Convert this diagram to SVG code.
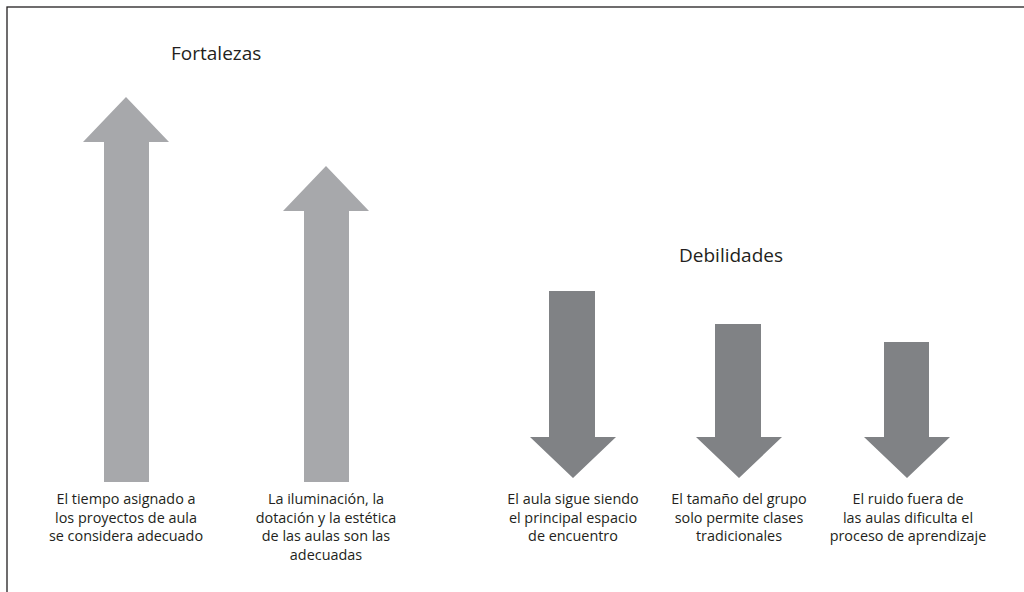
<svg xmlns="http://www.w3.org/2000/svg" width="1024" height="592" viewBox="0 0 1024 592">
<style>
.up{fill:#a7a8ab}
.down{fill:#808285}
.t{font-family:"Open Sans","Liberation Sans",sans-serif;font-size:14.4px;fill:#231f20;text-anchor:middle}
.h{font-family:"Open Sans","Liberation Sans",sans-serif;font-size:19px;fill:#231f20}
</style>
<rect x="7" y="7" width="1030" height="600" fill="#ffffff" stroke="#231f20" stroke-width="1.3"/>
<g id="title-fortalezas"><text class="h" x="171" y="60">Fortalezas</text></g>
<g id="title-debilidades"><text class="h" x="679" y="262">Debilidades</text></g>
<g id="connectors">
<polygon id="arrow-up-1" class="up" points="126,97 169,142 149,142 149,482 104,482 104,142 83,142"/>
<polygon id="arrow-up-2" class="up" points="326,166 369,211 349,211 349,482 304,482 304,211 283,211"/>
<polygon id="arrow-down-1" class="down" points="549,291 595,291 595,437 616,437 573,478 530,437 549,437"/>
<polygon id="arrow-down-2" class="down" points="715,324 761,324 761,437 782,437 739,478 696,437 715,437"/>
<polygon id="arrow-down-3" class="down" points="884,342 929,342 929,437 950,437 907,478 864,437 884,437"/>
</g>
<g id="node-1"><text class="t" x="126"><tspan x="126" y="504">El tiempo asignado a</tspan><tspan x="126" y="522.5">los proyectos de aula</tspan><tspan x="126" y="541">se considera adecuado</tspan></text></g>
<g id="node-2"><text class="t" x="326"><tspan x="326" y="504">La iluminación, la</tspan><tspan x="326" y="522.5">dotación y la estética</tspan><tspan x="326" y="541">de las aulas son las</tspan><tspan x="326" y="559.5">adecuadas</tspan></text></g>
<g id="node-3"><text class="t" x="573"><tspan x="573" y="504">El aula sigue siendo</tspan><tspan x="573" y="522.5">el principal espacio</tspan><tspan x="573" y="541">de encuentro</tspan></text></g>
<g id="node-4"><text class="t" x="739"><tspan x="739" y="504">El tamaño del grupo</tspan><tspan x="739" y="522.5">solo permite clases</tspan><tspan x="739" y="541">tradicionales</tspan></text></g>
<g id="node-5"><text class="t" x="908"><tspan x="908" y="504">El ruido fuera de</tspan><tspan x="908" y="522.5">las aulas dificulta el</tspan><tspan x="908" y="541">proceso de aprendizaje</tspan></text></g>
</svg>
